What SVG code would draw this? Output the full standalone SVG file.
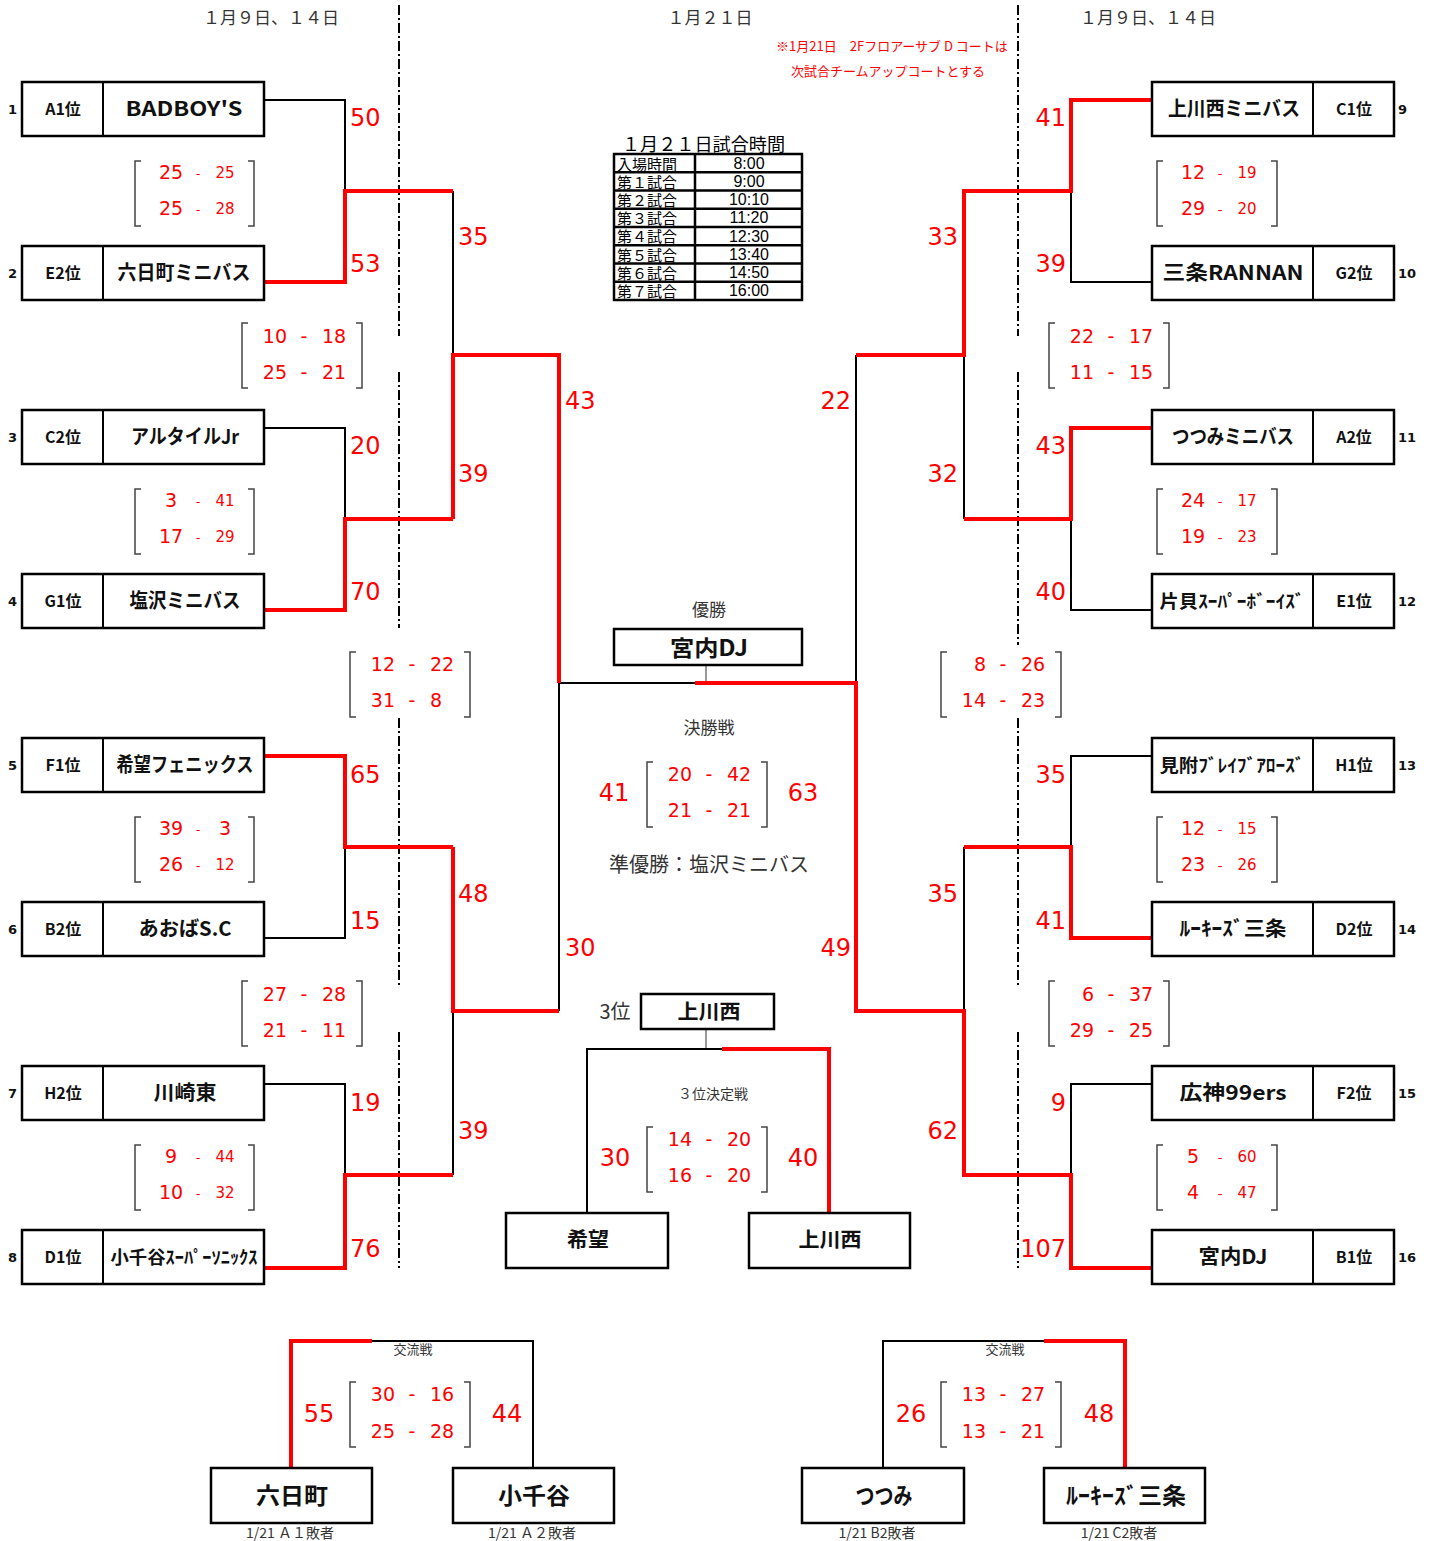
<svg xmlns="http://www.w3.org/2000/svg" width="1434" height="1541" viewBox="0 0 1434 1541">
<style>
.bg{fill:#fff}
.box{fill:#fff;stroke:#000;stroke-width:2.5}
.dv{stroke:#000;stroke-width:2}
.lk{fill:none;stroke:#000;stroke-width:2}
.lr{fill:none;stroke:#f00;stroke-width:4}
.th{fill:none;stroke:#555;stroke-width:1.2}
.br{fill:none;stroke:#444;stroke-width:1.5}
.dash{stroke:#000;stroke-width:2;stroke-dasharray:10 3 2 3}
.nm{font-family:"Noto Sans CJK JP",sans-serif;font-weight:700;font-size:20px;text-anchor:middle;fill:#111}
.lb{font-family:"Noto Sans CJK JP",sans-serif;font-weight:700;font-size:16px;text-anchor:middle;fill:#111}
.sd{font-family:"DejaVu Sans",sans-serif;font-weight:700;font-size:13px;fill:#111}
.sc{font-family:"DejaVu Sans",sans-serif;font-size:24px;fill:#f00}
.scr{font-family:"DejaVu Sans",sans-serif;font-size:24px;fill:#f00;text-anchor:end}
.scm{font-family:"DejaVu Sans",sans-serif;font-size:24px;fill:#f00;text-anchor:middle}
.b1{font-family:"DejaVu Sans",sans-serif;font-size:19px;fill:#f00;text-anchor:middle}
.b2{font-family:"DejaVu Sans",sans-serif;font-size:15px;fill:#f00;text-anchor:middle}
.bd{font-family:"DejaVu Sans",sans-serif;font-size:13px;fill:#f00;text-anchor:middle}
.be{font-family:"DejaVu Sans",sans-serif;font-size:19px;fill:#f00;text-anchor:end}
.bm{font-family:"DejaVu Sans",sans-serif;font-size:19px;fill:#f00;text-anchor:middle}
.bst{font-family:"DejaVu Sans",sans-serif;font-size:19px;fill:#f00;text-anchor:start}
.jp{font-family:"Noto Sans CJK JP",sans-serif;fill:#333;text-anchor:middle}
.tb{font-family:"Noto Sans CJK JP",sans-serif;fill:#000;font-size:15px}
.tt{font-family:"Liberation Sans",Arial,sans-serif;fill:#000;font-size:16px;text-anchor:middle}
.ttl{font-family:"Noto Sans CJK JP",sans-serif;fill:#000;font-size:18px}
</style>
<rect class="bg" x="0" y="0" width="1434" height="1541"/>

<!-- headers -->
<g id="headers">
<text class="jp" x="271" y="24" style="font-size:17px">１月９日、１４日</text>
<text class="jp" x="710" y="24" style="font-size:17px">１月２１日</text>
<text class="jp" x="1148" y="24" style="font-size:17px">１月９日、１４日</text>
<text class="jp" x="892" y="51" style="font-size:13px;fill:#f00">※1月21日　2Fフロアーサブ D コートは</text>
<text class="jp" x="888" y="76" style="font-size:13px;fill:#f00">次試合チームアップコートとする</text>
</g>

<!-- schedule table -->
<g id="schedule">
<text class="ttl" x="622" y="151" textLength="163" lengthAdjust="spacingAndGlyphs">１月２１日試合時間</text>
<rect x="614" y="154" width="188" height="146" fill="none" stroke="#000" stroke-width="2.5"/>
<path d="M614,172.25H802M614,190.5H802M614,208.75H802M614,227H802M614,245.25H802M614,263.5H802M614,281.75H802M695,154V300" stroke="#000" stroke-width="2.5" fill="none"/>
<g class="tb">
<text x="617" y="170">入場時間</text>
<text x="617" y="188">第１試合</text>
<text x="617" y="206">第２試合</text>
<text x="617" y="224">第３試合</text>
<text x="617" y="242">第４試合</text>
<text x="617" y="261">第５試合</text>
<text x="617" y="279">第６試合</text>
<text x="617" y="297">第７試合</text>
</g>
<g class="tt">
<text x="749" y="169">8:00</text>
<text x="749" y="187">9:00</text>
<text x="749" y="205">10:10</text>
<text x="749" y="223">11:20</text>
<text x="749" y="242">12:30</text>
<text x="749" y="260">13:40</text>
<text x="749" y="278">14:50</text>
<text x="749" y="296">16:00</text>
</g>
</g>

<!-- dash-dot separators -->
<g id="separators">
<path class="dash" d="M399,5V336M399,372V628M399,718V988M399,1032V1268"/>
<path class="dash" d="M1018,5V336M1018,372V645M1018,718V988M1018,1032V1268"/>
</g>

<!-- connectors -->
<g id="connectors">
<path class="lk" d="M264,100H345V191"/>
<path class="lk" d="M264,428H345V519"/>
<path class="lk" d="M264,938H345V847"/>
<path class="lk" d="M264,1084H345V1175"/>
<path class="lk" d="M453,191V355"/>
<path class="lk" d="M453,1011V1175"/>
<path class="lk" d="M559,683V1011"/>
<path class="lk" d="M559,683H695"/>
<path class="lk" d="M856,355V683"/>
<path class="lk" d="M964,355V519"/>
<path class="lk" d="M964,847V1011"/>
<path class="lk" d="M1071,191V282H1152"/>
<path class="lk" d="M1071,519V610H1152"/>
<path class="lk" d="M1071,847V756H1152"/>
<path class="lk" d="M1071,1175V1084H1152"/>
<path class="th" d="M706,665V683"/>
<path class="th" d="M706,1029V1049"/>
<path class="lk" d="M722,1049H587V1213"/>
<path class="lk" d="M372,1341H533V1468"/>
<path class="lk" d="M1044,1341H883V1468"/>

<path class="lr" d="M264,282H345V191H453"/>
<path class="lr" d="M264,610H345V519H453"/>
<path class="lr" d="M264,756H345V847H453"/>
<path class="lr" d="M264,1268H345V1175H453"/>
<path class="lr" d="M453,519V355H559V683"/>
<path class="lr" d="M453,847V1011H559"/>
<path class="lr" d="M695,683H856V1011H964V1175H1071V1268H1152"/>
<path class="lr" d="M856,355H964V191H1071V100H1152"/>
<path class="lr" d="M964,519H1071V428H1152"/>
<path class="lr" d="M964,847H1071V938H1152"/>
<path class="lr" d="M722,1049H829V1213"/>
<path class="lr" d="M372,1341H291V1468"/>
<path class="lr" d="M1044,1341H1125V1468"/>
</g>

<!-- left teams -->
<g id="team1"><rect class="box" x="22" y="82" width="242" height="54"/><path class="dv" d="M103,82V136"/><text class="sd" x="8" y="114">1</text><text class="lb" x="63" y="115">A1位</text><text class="nm" x="184" y="116" textLength="117" lengthAdjust="spacingAndGlyphs">BADBOY'S</text></g>
<g id="team2"><rect class="box" x="22" y="246" width="242" height="54"/><path class="dv" d="M103,246V300"/><text class="sd" x="8" y="278">2</text><text class="lb" x="63" y="279">E2位</text><text class="nm" x="184" y="280" textLength="133" lengthAdjust="spacingAndGlyphs">六日町ミニバス</text></g>
<g id="team3"><rect class="box" x="22" y="410" width="242" height="54"/><path class="dv" d="M103,410V464"/><text class="sd" x="8" y="442">3</text><text class="lb" x="63" y="443">C2位</text><text class="nm" x="185" y="444" textLength="108" lengthAdjust="spacingAndGlyphs">アルタイルJr</text></g>
<g id="team4"><rect class="box" x="22" y="574" width="242" height="54"/><path class="dv" d="M103,574V628"/><text class="sd" x="8" y="606">4</text><text class="lb" x="63" y="607">G1位</text><text class="nm" x="185" y="608" textLength="111" lengthAdjust="spacingAndGlyphs">塩沢ミニバス</text></g>
<g id="team5"><rect class="box" x="22" y="738" width="242" height="54"/><path class="dv" d="M103,738V792"/><text class="sd" x="8" y="770">5</text><text class="lb" x="63" y="771">F1位</text><text class="nm" x="185" y="772" textLength="137" lengthAdjust="spacingAndGlyphs">希望フェニックス</text></g>
<g id="team6"><rect class="box" x="22" y="902" width="242" height="54"/><path class="dv" d="M103,902V956"/><text class="sd" x="8" y="934">6</text><text class="lb" x="63" y="935">B2位</text><text class="nm" x="185" y="936" textLength="93" lengthAdjust="spacingAndGlyphs">あおばS.C</text></g>
<g id="team7"><rect class="box" x="22" y="1066" width="242" height="54"/><path class="dv" d="M103,1066V1120"/><text class="sd" x="8" y="1098">7</text><text class="lb" x="63" y="1099">H2位</text><text class="nm" x="185" y="1100" textLength="63" lengthAdjust="spacingAndGlyphs">川崎東</text></g>
<g id="team8"><rect class="box" x="22" y="1230" width="242" height="54"/><path class="dv" d="M103,1230V1284"/><text class="sd" x="8" y="1262">8</text><text class="lb" x="63" y="1263">D1位</text><text class="nm" x="184" y="1264" style="font-size:18px" textLength="147" lengthAdjust="spacingAndGlyphs">小千谷ｽｰﾊﾟｰｿﾆｯｸｽ</text></g>

<!-- right teams -->
<g id="team9"><rect class="box" x="1152" y="82" width="242" height="54"/><path class="dv" d="M1313,82V136"/><text class="sd" x="1398" y="114">9</text><text class="lb" x="1354" y="115">C1位</text><text class="nm" x="1234" y="116" textLength="132" lengthAdjust="spacingAndGlyphs">上川西ミニバス</text></g>
<g id="team10"><rect class="box" x="1152" y="246" width="242" height="54"/><path class="dv" d="M1313,246V300"/><text class="sd" x="1398" y="278">10</text><text class="lb" x="1354" y="279">G2位</text><text class="nm" x="1233" y="280" textLength="141" lengthAdjust="spacingAndGlyphs">三条RANNAN</text></g>
<g id="team11"><rect class="box" x="1152" y="410" width="242" height="54"/><path class="dv" d="M1313,410V464"/><text class="sd" x="1398" y="442">11</text><text class="lb" x="1354" y="443">A2位</text><text class="nm" x="1233" y="444" textLength="122" lengthAdjust="spacingAndGlyphs">つつみミニバス</text></g>
<g id="team12"><rect class="box" x="1152" y="574" width="242" height="54"/><path class="dv" d="M1313,574V628"/><text class="sd" x="1398" y="606">12</text><text class="lb" x="1354" y="607">E1位</text><text class="nm" x="1232" y="608" style="font-size:18px" textLength="145" lengthAdjust="spacingAndGlyphs">片貝ｽｰﾊﾟｰﾎﾞｰｲｽﾞ</text></g>
<g id="team13"><rect class="box" x="1152" y="738" width="242" height="54"/><path class="dv" d="M1313,738V792"/><text class="sd" x="1398" y="770">13</text><text class="lb" x="1354" y="771">H1位</text><text class="nm" x="1232" y="772" style="font-size:18px" textLength="145" lengthAdjust="spacingAndGlyphs">見附ﾌﾞﾚｲﾌﾞｱﾛｰｽﾞ</text></g>
<g id="team14"><rect class="box" x="1152" y="902" width="242" height="54"/><path class="dv" d="M1313,902V956"/><text class="sd" x="1398" y="934">14</text><text class="lb" x="1354" y="935">D2位</text><text class="nm" x="1233" y="936" textLength="107" lengthAdjust="spacingAndGlyphs">ﾙｰｷｰｽﾞ三条</text></g>
<g id="team15"><rect class="box" x="1152" y="1066" width="242" height="54"/><path class="dv" d="M1313,1066V1120"/><text class="sd" x="1398" y="1098">15</text><text class="lb" x="1354" y="1099">F2位</text><text class="nm" x="1233" y="1100" textLength="107" lengthAdjust="spacingAndGlyphs">広神99ers</text></g>
<g id="team16"><rect class="box" x="1152" y="1230" width="242" height="54"/><path class="dv" d="M1313,1230V1284"/><text class="sd" x="1398" y="1262">16</text><text class="lb" x="1354" y="1263">B1位</text><text class="nm" x="1233" y="1264" textLength="69" lengthAdjust="spacingAndGlyphs">宮内DJ</text></g>

<!-- match scores -->
<g id="scores">
<text class="sc" x="350" y="126">50</text>
<text class="sc" x="350" y="272">53</text>
<text class="sc" x="350" y="454">20</text>
<text class="sc" x="350" y="600">70</text>
<text class="sc" x="350" y="783">65</text>
<text class="sc" x="350" y="929">15</text>
<text class="sc" x="350" y="1111">19</text>
<text class="sc" x="350" y="1257">76</text>
<text class="sc" x="458" y="245">35</text>
<text class="sc" x="458" y="482">39</text>
<text class="sc" x="458" y="902">48</text>
<text class="sc" x="458" y="1139">39</text>
<text class="sc" x="565" y="409">43</text>
<text class="sc" x="565" y="956">30</text>
<text class="scr" x="1066" y="126">41</text>
<text class="scr" x="1066" y="272">39</text>
<text class="scr" x="1066" y="454">43</text>
<text class="scr" x="1066" y="600">40</text>
<text class="scr" x="1066" y="783">35</text>
<text class="scr" x="1066" y="929">41</text>
<text class="scr" x="1066" y="1111">9</text>
<text class="scr" x="1066" y="1257">107</text>
<text class="scr" x="958" y="245">33</text>
<text class="scr" x="958" y="482">32</text>
<text class="scr" x="958" y="902">35</text>
<text class="scr" x="958" y="1139">62</text>
<text class="scr" x="851" y="409">22</text>
<text class="scr" x="851" y="956">49</text>
</g>

<!-- period score brackets -->
<g id="brackets">
<path class="br" d="M141,161H135V226H141M248,161H254V226H248"/>
<path class="br" d="M141,489H135V554H141M248,489H254V554H248"/>
<path class="br" d="M141,817H135V882H141M248,817H254V882H248"/>
<path class="br" d="M141,1145H135V1210H141M248,1145H254V1210H248"/>
<path class="br" d="M1163,161H1157V226H1163M1271,161H1277V226H1271"/>
<path class="br" d="M1163,489H1157V554H1163M1271,489H1277V554H1271"/>
<path class="br" d="M1163,817H1157V882H1163M1271,817H1277V882H1271"/>
<path class="br" d="M1163,1145H1157V1210H1163M1271,1145H1277V1210H1271"/>
<path class="br" d="M248,323H242V388H248M356,323H362V388H356"/>
<path class="br" d="M248,981H242V1046H248M356,981H362V1046H356"/>
<path class="br" d="M1055,323H1049V388H1055M1163,323H1169V388H1163"/>
<path class="br" d="M1055,981H1049V1046H1055M1163,981H1169V1046H1163"/>
<path class="br" d="M356,652H350V717H356M464,652H470V717H464"/>
<path class="br" d="M947,652H941V717H947M1055,652H1061V717H1055"/>
<path class="br" d="M653,762H647V827H653M761,762H767V827H761"/>
<path class="br" d="M653,1127H647V1192H653M761,1127H767V1192H761"/>
<path class="br" d="M356,1382H350V1447H356M464,1382H470V1447H464"/>
<path class="br" d="M947,1382H941V1447H947M1055,1382H1061V1447H1055"/>

<text class="b1" x="171" y="179">25</text><text class="bd" x="198" y="178">-</text><text class="b2" x="225" y="178">25</text>
<text class="b1" x="171" y="215">25</text><text class="bd" x="198" y="214">-</text><text class="b2" x="225" y="214">28</text>
<text class="b1" x="171" y="507">3</text><text class="bd" x="198" y="506">-</text><text class="b2" x="225" y="506">41</text>
<text class="b1" x="171" y="543">17</text><text class="bd" x="198" y="542">-</text><text class="b2" x="225" y="542">29</text>
<text class="b1" x="171" y="835">39</text><text class="bd" x="198" y="834">-</text><text class="b1" x="225" y="835">3</text>
<text class="b1" x="171" y="871">26</text><text class="bd" x="198" y="870">-</text><text class="b2" x="225" y="870">12</text>
<text class="b1" x="171" y="1163">9</text><text class="bd" x="198" y="1162">-</text><text class="b2" x="225" y="1162">44</text>
<text class="b1" x="171" y="1199">10</text><text class="bd" x="198" y="1198">-</text><text class="b2" x="225" y="1198">32</text>
<text class="b1" x="1193" y="179">12</text><text class="bd" x="1220" y="178">-</text><text class="b2" x="1247" y="178">19</text>
<text class="b1" x="1193" y="215">29</text><text class="bd" x="1220" y="214">-</text><text class="b2" x="1247" y="214">20</text>
<text class="b1" x="1193" y="507">24</text><text class="bd" x="1220" y="506">-</text><text class="b2" x="1247" y="506">17</text>
<text class="b1" x="1193" y="543">19</text><text class="bd" x="1220" y="542">-</text><text class="b2" x="1247" y="542">23</text>
<text class="b1" x="1193" y="835">12</text><text class="bd" x="1220" y="834">-</text><text class="b2" x="1247" y="834">15</text>
<text class="b1" x="1193" y="871">23</text><text class="bd" x="1220" y="870">-</text><text class="b2" x="1247" y="870">26</text>
<text class="b1" x="1193" y="1163">5</text><text class="bd" x="1220" y="1162">-</text><text class="b2" x="1247" y="1162">60</text>
<text class="b1" x="1193" y="1199">4</text><text class="bd" x="1220" y="1198">-</text><text class="b2" x="1247" y="1198">47</text>

<text class="be" x="287" y="343">10</text><text class="bm" x="304" y="343">-</text><text class="bst" x="322" y="343">18</text>
<text class="be" x="287" y="379">25</text><text class="bm" x="304" y="379">-</text><text class="bst" x="322" y="379">21</text>
<text class="be" x="287" y="1001">27</text><text class="bm" x="304" y="1001">-</text><text class="bst" x="322" y="1001">28</text>
<text class="be" x="287" y="1037">21</text><text class="bm" x="304" y="1037">-</text><text class="bst" x="322" y="1037">11</text>
<text class="be" x="1094" y="343">22</text><text class="bm" x="1111" y="343">-</text><text class="bst" x="1129" y="343">17</text>
<text class="be" x="1094" y="379">11</text><text class="bm" x="1111" y="379">-</text><text class="bst" x="1129" y="379">15</text>
<text class="be" x="1094" y="1001">6</text><text class="bm" x="1111" y="1001">-</text><text class="bst" x="1129" y="1001">37</text>
<text class="be" x="1094" y="1037">29</text><text class="bm" x="1111" y="1037">-</text><text class="bst" x="1129" y="1037">25</text>
<text class="be" x="395" y="671">12</text><text class="bm" x="412" y="671">-</text><text class="bst" x="430" y="671">22</text>
<text class="be" x="395" y="707">31</text><text class="bm" x="412" y="707">-</text><text class="bst" x="430" y="707">8</text>
<text class="be" x="986" y="671">8</text><text class="bm" x="1003" y="671">-</text><text class="bst" x="1021" y="671">26</text>
<text class="be" x="986" y="707">14</text><text class="bm" x="1003" y="707">-</text><text class="bst" x="1021" y="707">23</text>
<text class="be" x="692" y="781">20</text><text class="bm" x="709" y="781">-</text><text class="bst" x="727" y="781">42</text>
<text class="be" x="692" y="817">21</text><text class="bm" x="709" y="817">-</text><text class="bst" x="727" y="817">21</text>
<text class="be" x="692" y="1146">14</text><text class="bm" x="709" y="1146">-</text><text class="bst" x="727" y="1146">20</text>
<text class="be" x="692" y="1182">16</text><text class="bm" x="709" y="1182">-</text><text class="bst" x="727" y="1182">20</text>
<text class="be" x="395" y="1401">30</text><text class="bm" x="412" y="1401">-</text><text class="bst" x="430" y="1401">16</text>
<text class="be" x="395" y="1438">25</text><text class="bm" x="412" y="1438">-</text><text class="bst" x="430" y="1438">28</text>
<text class="be" x="986" y="1401">13</text><text class="bm" x="1003" y="1401">-</text><text class="bst" x="1021" y="1401">27</text>
<text class="be" x="986" y="1438">13</text><text class="bm" x="1003" y="1438">-</text><text class="bst" x="1021" y="1438">21</text>
</g>

<!-- final -->
<g id="final">
<text class="jp" x="709" y="616" style="font-size:17px">優勝</text>
<rect class="box" x="614" y="629" width="188" height="36"/>
<text class="nm" x="709" y="656" style="font-size:22px" textLength="78" lengthAdjust="spacingAndGlyphs">宮内DJ</text>
<text class="jp" x="709" y="734" style="font-size:17px">決勝戦</text>
<text class="scm" x="614" y="801">41</text>
<text class="scm" x="803" y="801">63</text>
<text class="jp" x="709" y="872" style="font-size:20px">準優勝：塩沢ミニバス</text>
</g>

<!-- third place -->
<g id="third">
<text class="jp" x="615" y="1019" style="font-size:20px">3位</text>
<rect class="box" x="641" y="994" width="133" height="35"/>
<text class="nm" x="709" y="1019" textLength="63" lengthAdjust="spacingAndGlyphs">上川西</text>
<text class="jp" x="713" y="1099" style="font-size:14px">３位決定戦</text>
<text class="scm" x="615" y="1166">30</text>
<text class="scm" x="803" y="1166">40</text>
</g>
<g id="third-a"><rect class="box" x="506" y="1213" width="162" height="55"/><text class="nm" x="588" y="1247" textLength="42" lengthAdjust="spacingAndGlyphs">希望</text></g>
<g id="third-b"><rect class="box" x="749" y="1213" width="161" height="55"/><text class="nm" x="830" y="1247" textLength="63" lengthAdjust="spacingAndGlyphs">上川西</text></g>

<!-- exchange games -->
<g id="exchange-left">
<text class="jp" x="413" y="1354" style="font-size:13px">交流戦</text>
<text class="scm" x="319" y="1422">55</text>
<text class="scm" x="507" y="1422">44</text>
</g>
<g id="ex-muika"><rect class="box" x="211" y="1468" width="161" height="55"/><text class="nm" x="292" y="1504" style="font-size:23px" textLength="72" lengthAdjust="spacingAndGlyphs">六日町</text><text class="jp" x="290" y="1538" style="font-size:14px">1/21  Ａ１敗者</text></g>
<g id="ex-ojiya"><rect class="box" x="453" y="1468" width="161" height="55"/><text class="nm" x="534" y="1504" style="font-size:23px" textLength="72" lengthAdjust="spacingAndGlyphs">小千谷</text><text class="jp" x="532" y="1538" style="font-size:14px">1/21  Ａ２敗者</text></g>
<g id="exchange-right">
<text class="jp" x="1005" y="1354" style="font-size:13px">交流戦</text>
<text class="scm" x="911" y="1422">26</text>
<text class="scm" x="1099" y="1422">48</text>
</g>
<g id="ex-tsutsumi"><rect class="box" x="802" y="1468" width="162" height="55"/><text class="nm" x="884" y="1504" style="font-size:23px" textLength="57" lengthAdjust="spacingAndGlyphs">つつみ</text><text class="jp" x="877" y="1538" style="font-size:14px">1/21 B2敗者</text></g>
<g id="ex-rookies"><rect class="box" x="1044" y="1468" width="161" height="55"/><text class="nm" x="1126" y="1504" style="font-size:23px" textLength="120" lengthAdjust="spacingAndGlyphs">ﾙｰｷｰｽﾞ三条</text><text class="jp" x="1119" y="1538" style="font-size:14px">1/21 C2敗者</text></g>
</svg>
